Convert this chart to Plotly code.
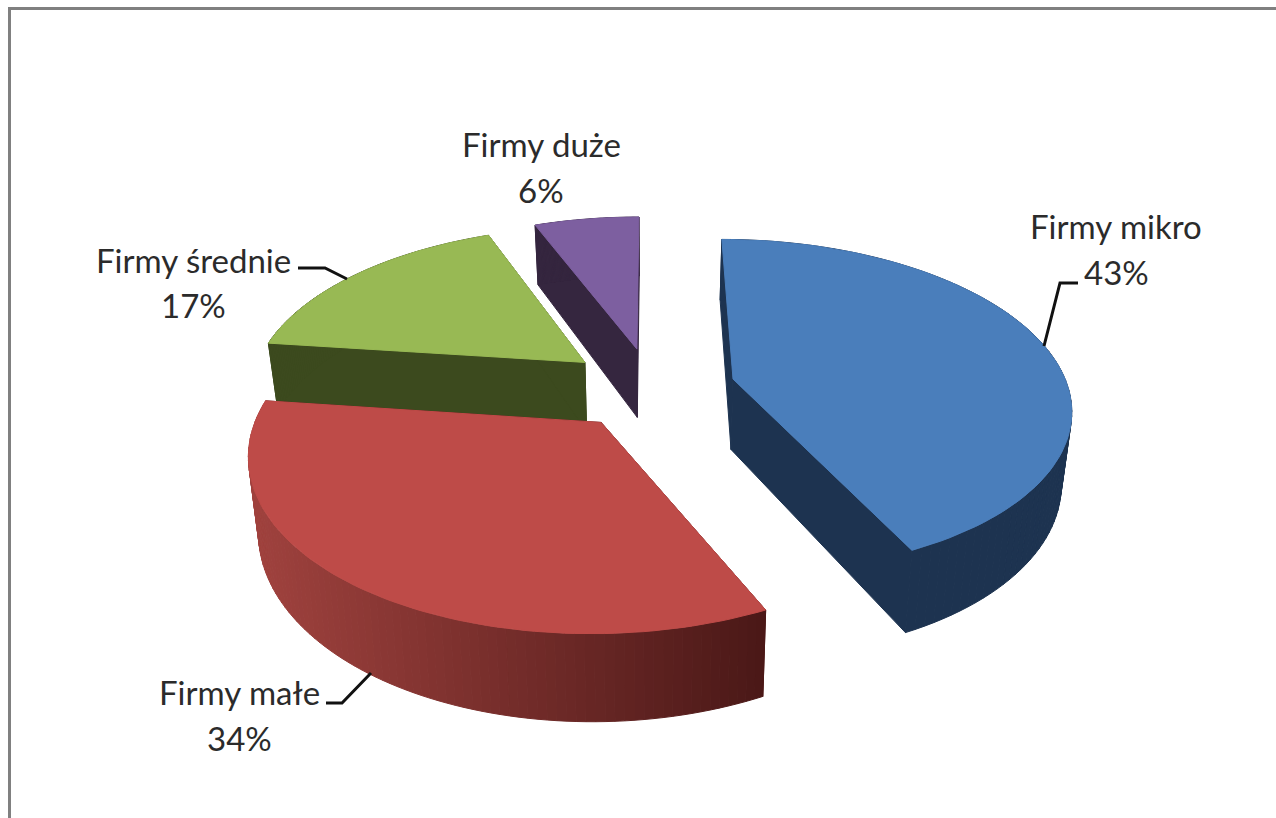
import numpy as np
import plotly.graph_objects as go

# ---- data ----
categories = ["Firmy mikro", "Firmy małe", "Firmy średnie", "Firmy duże"]
values = [43, 34, 17, 6]

# ---- style / geometry (pixels in a 1276x818 canvas) ----
W, H = 1276, 818
CX, CY = 652, 388      # pie centre on screen
B, A, K = 335, 164.8, 0.161  # perspective ellipse parameters
DEPTH, SHRINK = 71, 0.975
EXPLODE = [0.25, 0.25, 0.26, 0.25]
START = 0.0
top_colors = ["#4A7EBB", "#BE4B48", "#98B954", "#7D5FA0"]
side_colors = ["#1D3350", "#3F0F0F", "#3C4A1E", "#35263F"]
wall_left = [(29, 51, 80), (160, 66, 62), (60, 74, 30), (53, 38, 63)]
wall_right = [(29, 51, 80), (74, 24, 23), (60, 74, 30), (53, 38, 63)]
label_pos = [((1116, 226), (1116, 272)), ((239, 692), (239, 738)),
             ((193, 260), (193, 305)), ((541, 144), (541, 190))]
leader_lines = [[(1044, 346), (1060, 283), (1078, 283)],
                [(371, 673), (342, 703), (326, 703)],
                [(347, 279), (325, 268), (298, 268)]]
FONT = "Lato"
FONT_SIZE = 33
TEXT_COLOR = "#2b2b2b"
draw_order = [3, 2, 0, 1]


def project(X, Y, bottom=False):
    denom = 1 + K * Y
    x = CX + B * X / denom
    y = CY - A * Y / denom
    if bottom:
        x = CX + (x - CX) * SHRINK
        y = y + DEPTH / denom
    return x, y


def poly(fig, xs, ys, color, name):
    fig.add_trace(go.Scatter(
        x=list(xs), y=list(ys), mode="lines", fill="toself", fillcolor=color,
        line=dict(color=color, width=1), hoverinfo="text", text=name,
        showlegend=False))


def mix(c0, c1, f):
    c = [int(round(c0[i] + (c1[i] - c0[i]) * f)) for i in range(3)]
    return f"rgb({c[0]},{c[1]},{c[2]})"


fig = go.Figure()
total = sum(values)
edges = np.cumsum([0] + values) / total * 360 + START

for idx in draw_order:
    t0, t1 = np.radians(edges[idx]), np.radians(edges[idx + 1])
    mid = (t0 + t1) / 2
    ox, oy = EXPLODE[idx] * np.sin(mid), EXPLODE[idx] * np.cos(mid)
    name = f"{categories[idx]}: {values[idx]}%"
    t = np.linspace(t0, t1, 90)
    X, Y = ox + np.sin(t), oy + np.cos(t)
    ax, ay = project(ox, oy)
    bx, by = project(ox, oy, True)
    tx, ty = project(X, Y)
    ux, uy = project(X, Y, True)
    # radial walls
    for j in (0, -1):
        poly(fig, [ax, tx[j], ux[j], bx, ax], [ay, ty[j], uy[j], by, ay],
             side_colors[idx] if idx != 1 else mix(wall_left[1], wall_right[1], 0.9), name)
    # outer wall drawn in small strips for the shading
    xmin, xmax = tx.min(), tx.max()
    for j in range(len(t) - 1):
        f = ((tx[j] + tx[j + 1]) / 2 - xmin) / max(xmax - xmin, 1)
        c = mix(wall_left[idx], wall_right[idx], f)
        poly(fig, [tx[j], tx[j + 1], ux[j + 1], ux[j], tx[j]],
             [ty[j], ty[j + 1], uy[j + 1], uy[j], ty[j]], c, name)
    # top face
    poly(fig, [ax, *tx, ax], [ay, *ty, ay], top_colors[idx], name)

# leader lines
for pts in leader_lines:
    fig.add_trace(go.Scatter(x=[p[0] for p in pts], y=[p[1] for p in pts], mode="lines",
                             line=dict(color="#111111", width=3), hoverinfo="skip",
                             showlegend=False))

# labels
for cat, val, (p_name, p_val) in zip(categories, values, label_pos):
    for txt, p in ((cat, p_name), (f"{val}%", p_val)):
        fig.add_annotation(x=p[0], y=p[1], text=txt, showarrow=False, xanchor="center",
                           yanchor="middle", font=dict(family=FONT, size=FONT_SIZE, color=TEXT_COLOR))

# picture frame (top and left edge)
fig.add_shape(type="line", x0=9.5, x1=9.5, y0=7, y1=H, line=dict(color="#808080", width=3))
fig.add_shape(type="line", x0=8, x1=W, y0=8.5, y1=8.5, line=dict(color="#808080", width=3))

fig.update_layout(
    width=W, height=H, margin=dict(l=0, r=0, t=0, b=0),
    paper_bgcolor="white", plot_bgcolor="white", showlegend=False,
    xaxis=dict(range=[0, W], visible=False, fixedrange=True),
    yaxis=dict(range=[H, 0], visible=False, fixedrange=True),
)
fig.write_html("out.html", config={"displayModeBar": False},
               post_script="document.body.style.margin='0';document.body.style.overflow='hidden';")
